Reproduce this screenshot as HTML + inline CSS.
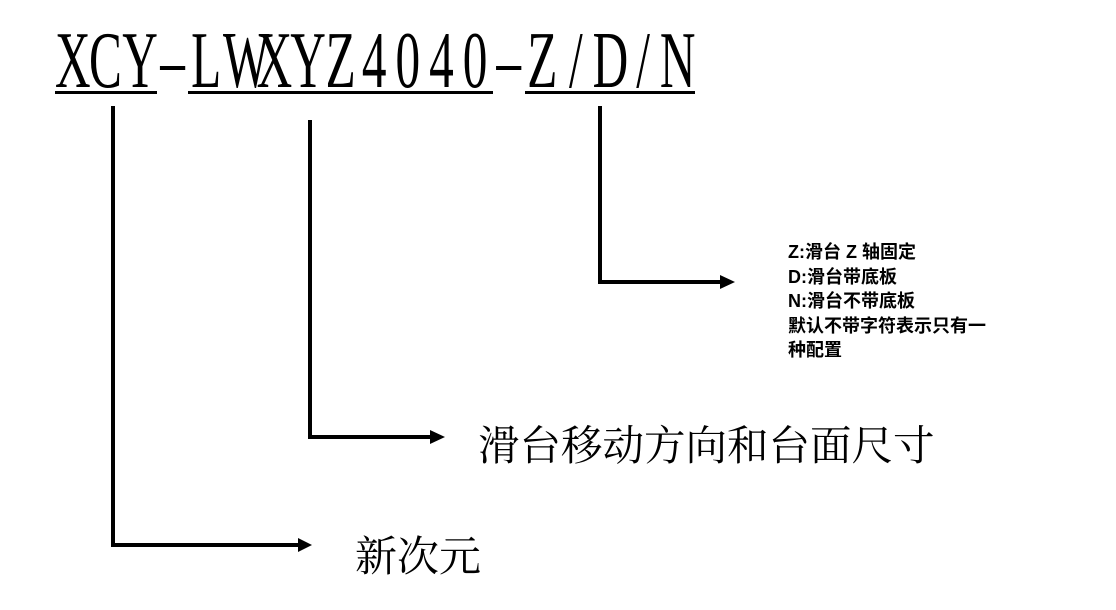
<!DOCTYPE html>
<html><head><meta charset="utf-8"><style>
body{margin:0;width:1116px;height:610px;background:#fff;position:relative;overflow:hidden;font-family:"Liberation Sans","Noto Sans CJK SC",sans-serif}
.t{position:absolute;left:55px;top:21px;font-family:"Liberation Serif",serif;font-size:56px;line-height:1;transform:scale(0.88,1.43);transform-origin:0 0;white-space:nowrap;color:#000}
.t span{display:inline-block;width:38.2px;text-align:center}
.ul{position:absolute;height:3px;background:#000;top:91px}
.a{position:absolute;white-space:nowrap;color:#000}
.s{left:788px;font-size:18px;font-weight:bold;line-height:24.5px;top:240px}
</style></head><body>
<div class="t"><span>X</span><span>C</span><span>Y</span><span>–</span><span>L</span><span>W</span><span>X</span><span>Y</span><span>Z</span><span>4</span><span>0</span><span>4</span><span>0</span><span>–</span><span>Z</span><span>/</span><span>D</span><span>/</span><span>N</span></div>
<div class="ul" style="left:55px;width:102px"></div>
<div class="ul" style="left:188px;width:305px"></div>
<div class="ul" style="left:525px;width:170px"></div>
<svg width="1116" height="610" style="position:absolute;left:0;top:0">
<g fill="none" stroke="#000" stroke-width="4">
<polyline points="113,106 113,545 300,545"/>
<polyline points="310,120 310,437 432,437"/>
<polyline points="600,106 600,282 722,282"/>
</g>
<polygon points="298,538 312,545 298,552"/>
<polygon points="430,430 445,437 430,444"/>
<polygon points="720,275 735,282 720,289"/>
</svg>
<div class="a" style="left:478px;top:412px;font-size:41.5px;font-family:'Noto Serif CJK SC',serif">滑台移动方向和台面尺寸</div>
<div class="a" style="left:355px;top:524px;font-size:42px;font-family:'Noto Serif CJK SC',serif">新次元</div>
<div class="a s">Z:滑台 Z 轴固定<br>D:滑台带底板<br>N:滑台不带底板<br>默认不带字符表示只有一<br>种配置</div>
</body></html>
